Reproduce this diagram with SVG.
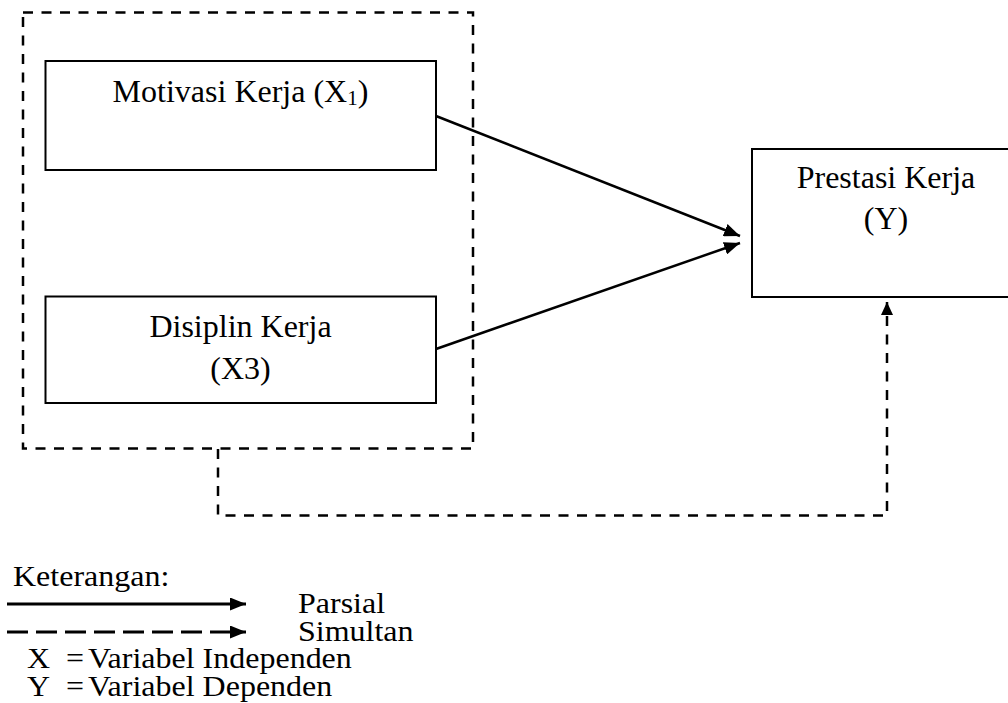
<svg xmlns="http://www.w3.org/2000/svg" width="1008" height="703" viewBox="0 0 1008 703">
<defs>
<style>
text{font-family:"Liberation Serif","Times New Roman",serif;font-size:32px;fill:#000}
.box{fill:#fff;stroke:#000;stroke-width:2}
.solid{fill:none;stroke:#000;stroke-width:2.5}
.dash{fill:none;stroke:#000;stroke-width:2.5;stroke-dasharray:10 8.5}
.ldash{fill:none;stroke:#000;stroke-width:3;stroke-dasharray:21 8}
.sub{font-size:21px}
</style>
<marker id="ah" markerUnits="userSpaceOnUse" markerWidth="17" markerHeight="13" refX="16" refY="6.5" orient="auto">
<path d="M0,0 L16,6.5 L0,13 z" fill="#000"/>
</marker>
<marker id="ahs" markerUnits="userSpaceOnUse" markerWidth="14" markerHeight="12" refX="13" refY="6" orient="auto">
<path d="M0,0 L13,6 L0,12 z" fill="#000"/>
</marker>
</defs>
<rect width="1008" height="703" fill="#fff"/>
<g id="group-x">
<rect x="23" y="12.5" width="450" height="436" class="dash"/>
</g>
<g id="node-x1">
<rect x="45.5" y="61" width="390.5" height="109" class="box"/>
<text x="240.5" y="102" text-anchor="middle">Motivasi Kerja (X<tspan class="sub" dy="3">1</tspan><tspan dy="-3">)</tspan></text>
</g>
<g id="node-x3">
<rect x="45.5" y="296.5" width="390.5" height="106.5" class="box"/>
<text x="240.5" y="337" text-anchor="middle">Disiplin Kerja</text>
<text x="240.5" y="379" text-anchor="middle">(X3)</text>
</g>
<g id="node-y">
<rect x="752" y="149" width="270" height="148" class="box"/>
<text x="886" y="188" text-anchor="middle">Prestasi Kerja</text>
<text x="886" y="229" text-anchor="middle">(Y)</text>
</g>
<g id="connectors">
<line x1="436" y1="116" x2="740" y2="236" class="solid" marker-end="url(#ah)"/>
<line x1="436" y1="349" x2="740" y2="243" class="solid" marker-end="url(#ah)"/>
<path d="M218,449 V515.5 H887 V302" class="dash" marker-end="url(#ahs)"/>
</g>
<g id="legend">
<line x1="7" y1="604" x2="246" y2="604" class="solid" style="stroke-width:3" marker-end="url(#ah)"/>
<line x1="7" y1="632" x2="246" y2="632" class="ldash" marker-end="url(#ah)"/>
<g transform="scale(1,0.9)">
<text x="13" y="651">Keterangan:</text>
<text x="298" y="681.5">Parsial</text>
<text x="298" y="712.5">Simultan</text>
<text y="742.5"><tspan x="27">X</tspan><tspan x="66">=</tspan><tspan x="88">Variabel Independen</tspan></text>
<text y="773.5"><tspan x="27">Y</tspan><tspan x="66">=</tspan><tspan x="88">Variabel Dependen</tspan></text>
</g>
</g>
</svg>
